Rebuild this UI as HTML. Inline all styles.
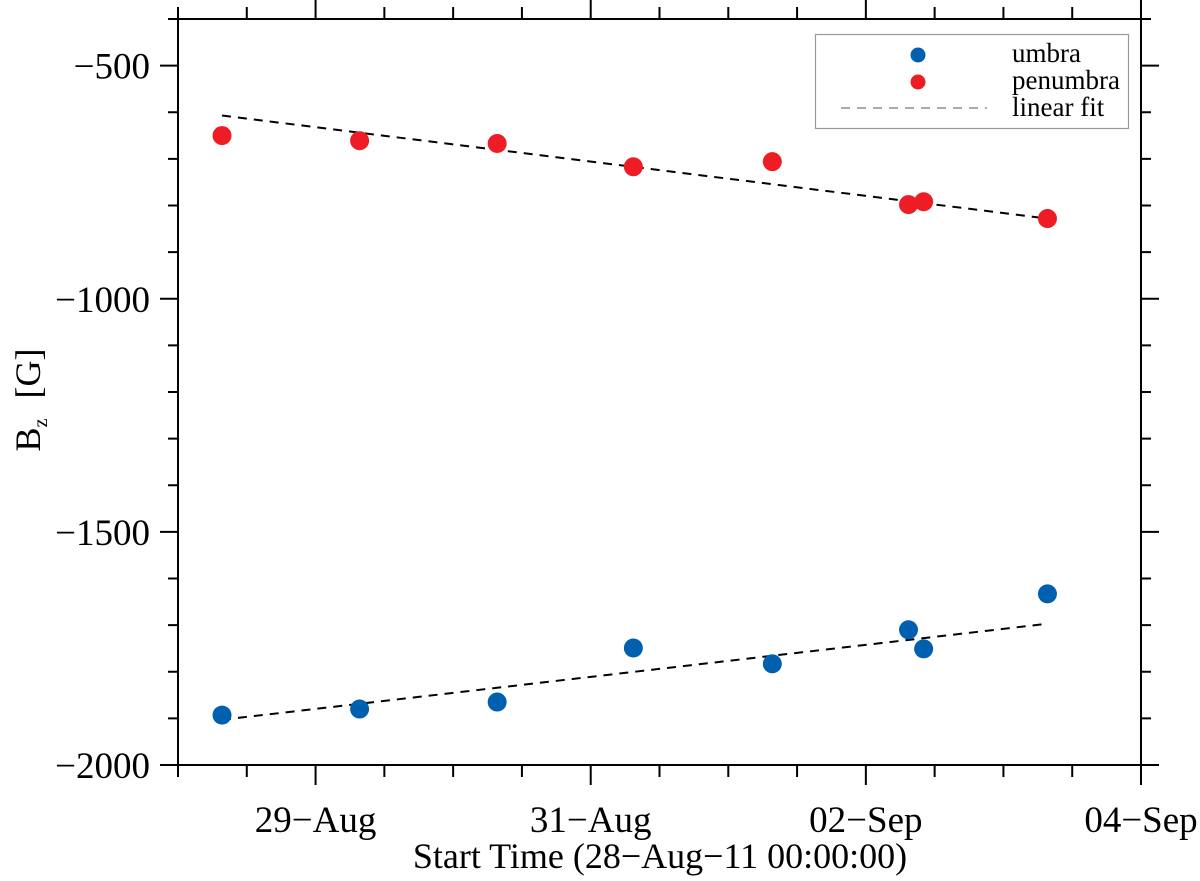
<!DOCTYPE html>
<html><head><meta charset="utf-8"><style>
body{margin:0;background:#fff}
svg{display:block;font-family:"Liberation Serif",serif}
</style></head><body>
<svg id="chart" width="1200" height="881" viewBox="0 0 1200 881" xmlns="http://www.w3.org/2000/svg">
<g id="axes"></g><g id="marks"></g>
<g>
<rect x="815.5" y="34.5" width="313" height="94" fill="#fff" stroke="#999" stroke-width="1.2"/>
<circle cx="918" cy="55" r="7.5" fill="#0060b0"/>
<text x="1012" y="62" font-size="27">umbra</text>
<circle cx="918" cy="82" r="7.5" fill="#ee1c24"/>
<text x="1012" y="89" font-size="27">penumbra</text>
<line x1="841" y1="108" x2="987" y2="108" stroke="#aaa" stroke-width="2" stroke-dasharray="9,7"/>
<text x="1012" y="116" font-size="27">linear fit</text>
</g>
<text x="660" y="868" font-size="36" text-anchor="middle">Start Time (28−Aug−11 00:00:00)</text>
<text transform="translate(40,400) rotate(-90)" font-size="36" text-anchor="middle">B<tspan font-size="20" dy="7">z</tspan><tspan dy="-7" dx="20">[G]</tspan></text>
</svg>
<script>
const days=[0.32,1.32,2.32,3.31,4.32,5.31,5.42,6.32];
const umbra=[-1893,-1880,-1865,-1749,-1783,-1710,-1751,-1633];
const penumbra=[-650,-661,-667,-717,-706,-798,-792,-828];
const fitDays=[0.32,6.32];
const umbraFit=[-1903,-1697];
const penumbraFit=[-607,-828];
const yTicks=[-2000,-1500,-1000,-500];
const xTickDays=[1,3,5,7];
const xTickLabels=["29−Aug","31−Aug","02−Sep","04−Sep"];

const L=178,R=1141,T=19,B=765;
const x=d=>L+d*(R-L)/7;
const y=v=>B-(v+2000)*(B-T)/1600;
const NS="http://www.w3.org/2000/svg";
function mk(tag,parent,attrs){const e=document.createElementNS(NS,tag);for(const k in attrs)e.setAttribute(k,attrs[k]);parent.appendChild(e);return e;}
const ax=document.getElementById('axes'),mg=document.getElementById('marks');
const frame=mk('rect',ax,{x:L,y:T,width:R-L,height:B-T,fill:'none',stroke:'#000','stroke-width':2});


for(let i=0;i<=14;i++){const d=i/2,px=x(d);const len=(i%4==2)?20:12;
 const t1=mk('line',ax,{x1:px,y1:B,x2:px,y2:B+len,stroke:'#000','stroke-width':2});
 
 
 const t2=mk('line',ax,{x1:px,y1:T,x2:px,y2:T-len,stroke:'#000','stroke-width':2});
 
 }
xTickDays.forEach((d,i)=>{const t=mk('text',ax,{x:x(d),y:832,'font-size':37,'text-anchor':'middle'});t.textContent=xTickLabels[i];
 
 });
for(let v=-2000;v<=-400;v+=100){const py=y(v);const len=(v%500==0)?18:10;
 const a=mk('line',ax,{x1:L,y1:py,x2:L-len,y2:py,stroke:'#000','stroke-width':2});
 
 
 const b=mk('line',ax,{x1:R,y1:py,x2:R+len,y2:py,stroke:'#000','stroke-width':2});
 
 }
yTicks.forEach(v=>{const t=mk('text',ax,{x:150,y:y(v)+13,'font-size':37,'text-anchor':'end'});t.textContent=String(v).replace('-','−');
 
 });
[[penumbraFit,'penumbra-fit-line'],[umbraFit,'umbra-fit-line']].forEach(([f,n])=>{
 const l=mk('line',mg,{x1:x(fitDays[0]),y1:y(f[0]),x2:x(fitDays[1]),y2:y(f[1]),stroke:'#000','stroke-width':2,'stroke-dasharray':'9,7'});
 
 });
days.forEach((d,i)=>{
 const c=mk('circle',mg,{cx:x(d),cy:y(penumbra[i]),r:9.5,fill:'#ee1c24'});
 
 
 const u=mk('circle',mg,{cx:x(d),cy:y(umbra[i]),r:9.5,fill:'#0060b0'});
 
 });
</script>
</body></html>
